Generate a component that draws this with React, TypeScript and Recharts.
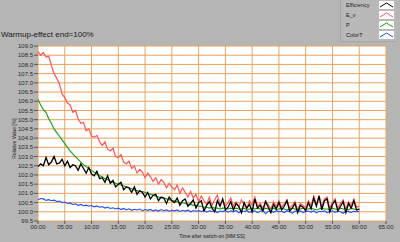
import { LineChart, Line, XAxis, YAxis, CartesianGrid, Label } from "recharts";

// sampled every 30 s, 00:00 .. 60:00
const sampleStepMin = 0.5;

const efficiency = [
  102.45, 102.6, 102.5, 102.95, 102.55, 102.7, 103.0, 102.6, 102.65, 102.85, 102.5,
  102.75, 102.4, 102.55, 102.5, 102.25, 102.6, 102.35, 102.1, 102.4, 102.05,
  101.95, 102.2, 101.8, 101.85, 101.6, 101.95, 101.55, 101.7, 101.35, 101.5,
  101.6, 101.2, 101.35, 101.3, 101.05, 101.35, 100.95, 101.15, 101.05, 100.8,
  101.05, 100.7, 100.9, 100.95, 100.6, 100.8, 100.75, 100.45, 100.8, 100.6,
  100.5, 100.75, 100.35, 100.6, 100.7, 100.3, 100.45, 100.65, 100.2, 100.5,
  100.6, 100.05, 100.35, 100.55, 100.2, 100.0, 100.6, 100.3, 100.7, 100.1,
  100.25, 100.55, 100.1, 100.45, 100.3, 99.95, 100.5, 100.2, 100.4, 100.0,
  100.7, 100.2, 100.35, 100.05, 100.55, 100.25, 99.95, 100.4, 100.15, 100.5,
  100.1, 100.3, 100.6, 100.05, 100.2, 100.45, 99.95, 100.35, 100.25, 100.05,
  100.5, 100.15, 100.75, 100.3, 100.85, 100.1, 100.6, 100.7, 100.0, 100.4,
  100.6, 100.05, 100.3, 100.55, 99.95, 100.45, 100.2, 100.6, 100.1, 100.15,
];

const eV = [
  108.7, 108.5, 108.65, 108.4, 108.45, 107.95, 107.5, 107.25, 106.95, 106.4, 106.2,
  105.9, 105.8, 105.4, 105.5, 105.05, 104.8, 104.85, 104.4, 104.5, 104.1,
  104.05, 104.15, 103.8, 103.6, 103.8, 103.4, 103.3, 103.45, 103.0, 102.95,
  103.1, 102.7, 102.6, 102.75, 102.35, 102.5, 102.1, 102.3, 102.15, 101.85,
  102.1, 101.9, 101.65, 101.85, 101.5, 101.75, 101.6, 101.3, 101.55, 101.35,
  101.2, 101.45, 101.0, 101.3, 101.05, 100.8, 101.1, 100.75, 100.95, 100.55,
  100.85, 100.6, 100.4, 100.8, 100.35, 100.65, 100.9, 100.4, 100.6, 100.3,
  100.5, 100.75, 100.3, 100.55, 100.25, 100.65, 100.4, 100.15, 100.6, 100.35,
  100.8, 100.3, 100.45, 100.2, 100.6, 100.4, 100.15, 100.55, 100.3, 100.6,
  100.25, 100.45, 100.65, 100.2, 100.35, 100.55, 100.1, 100.45, 100.35, 100.2,
  100.6, 100.3, 100.85, 100.4, 100.9, 100.25, 100.7, 100.8, 100.2, 100.5,
  100.7, 100.2, 100.45, 100.65, 100.15, 100.55, 100.35, 100.7, 100.25, 100.3,
];

const power = [
  106.1, 105.8, 105.55, 105.4, 105.05, 104.8, 104.5, 104.3, 104.1, 103.9, 103.7,
  103.5, 103.3, 103.15, 103.0, 102.85, 102.7, 102.55, 102.45, 102.35, 102.25,
  102.15, 102.05, 101.95, 101.9, 101.8, 101.75, 101.65, 101.6, 101.55, 101.5,
  101.45, 101.4, 101.35, 101.3, 101.25, 101.2, 101.15, 101.1, 101.1, 101.05,
  101.0, 100.95, 100.9, 100.85, 100.8, 100.75, 100.75, 100.7, 100.65, 100.6,
  100.6, 100.55, 100.5, 100.5, 100.45, 100.4, 100.4, 100.35, 100.35, 100.3,
  100.3, 100.25, 100.25, 100.2, 100.25, 100.2, 100.2, 100.15, 100.2, 100.2,
  100.15, 100.2, 100.15, 100.2, 100.15, 100.15, 100.2, 100.1, 100.15, 100.2,
  100.15, 100.2, 100.15, 100.1, 100.2, 100.15, 100.15, 100.2, 100.1, 100.15,
  100.2, 100.15, 100.1, 100.15, 100.2, 100.15, 100.1, 100.15, 100.2, 100.15,
  100.15, 100.2, 100.15, 100.1, 100.15, 100.2, 100.15, 100.15, 100.1, 100.2,
  100.15, 100.1, 100.2, 100.15, 100.15, 100.1, 100.2, 100.15, 100.1, 100.15,
];

const colorT = [
  100.65, 100.72, 100.7, 100.62, 100.66, 100.6, 100.63, 100.56, 100.58, 100.5, 100.53,
  100.45, 100.48, 100.4, 100.43, 100.35, 100.4, 100.33, 100.36, 100.3, 100.34,
  100.27, 100.32, 100.25, 100.28, 100.2, 100.26, 100.18, 100.22, 100.15, 100.2,
  100.12, 100.18, 100.1, 100.16, 100.08, 100.14, 100.1, 100.15, 100.06, 100.12,
  100.08, 100.13, 100.05, 100.1, 100.04, 100.12, 100.06, 100.1, 100.03, 100.08,
  100.05, 100.1, 100.02, 100.08, 100.04, 100.09, 100.0, 100.07, 100.03, 100.06,
  100.02, 100.08, 99.98, 100.05, 100.02, 100.07, 99.96, 100.04, 100.01, 100.06,
  99.98, 100.05, 100.0, 100.08, 99.95, 100.04, 100.02, 100.06, 99.97, 100.03,
  100.05, 99.95, 100.03, 100.07, 99.9, 100.02, 100.04, 99.97, 100.05, 100.0,
  100.03, 99.96, 100.06, 100.0, 99.93, 100.04, 100.01, 100.05, 99.96, 100.02,
  100.04, 99.98, 100.06, 99.94, 100.03, 100.0, 100.05, 99.95, 100.02, 100.04,
  99.97, 100.03, 100.0, 99.92, 100.04, 100.01, 99.96, 100.03, 100.0, 100.02,
];

const xTicks = [0, 5, 10, 15, 20, 25, 30, 35, 40, 45, 50, 55, 60, 65];
const yTicks = [
  99.5, 100, 100.5, 101, 101.5, 102, 102.5, 103, 103.5, 104, 104.5, 105, 105.5,
  106, 106.5, 107, 107.5, 108, 108.5, 109,
];

const series = [
  { key: "efficiency", name: "Efficiency", color: "#000000", width: 1.3 },
  { key: "eV", name: "E_v", color: "#ff5656", width: 1.2 },
  { key: "power", name: "P", color: "#13a013", width: 1.1 },
  { key: "colorT", name: "ColorT", color: "#1f4fff", width: 1.1 },
];

const data = efficiency.map((v, i) => ({
  t: i * sampleStepMin,
  efficiency: v,
  eV: eV[i],
  power: power[i],
  colorT: colorT[i],
}));

const font = "'Liberation Sans', Arial, sans-serif";
const tickStyle = { fontSize: 6, fill: "#2a2a2a", fontFamily: font };
const fmtTime = (m: number) => `${String(m).padStart(2, "0")}:00`;

// draw order: black on top
const drawOrder = ["eV", "power", "colorT", "efficiency"];

function LegendBox() {
  return (
    <div
      style={{
        position: "absolute",
        left: 340,
        top: 0,
        width: 55,
        height: 41,
        background: "#b9b9b9",
        borderLeft: "1px solid #a6a6a6",
        borderBottom: "1px solid #a6a6a6",
      }}
    >
      {series.map((s, i) => (
        <div
          key={s.key}
          style={{ position: "absolute", left: 0, top: i * 10, width: 55, height: 10 }}
        >
          <span
            style={{
              position: "absolute",
              left: 5,
              top: 2,
              fontSize: 5.5,
              lineHeight: "6px",
              fontFamily: font,
              color: "#222",
            }}
          >
            {s.name}
          </span>
          <svg
            width={15}
            height={8}
            style={{ position: "absolute", left: 38, top: 1, background: "#fff" }}
          >
            <polyline
              points="1,6 7.5,2 14,6"
              fill="none"
              stroke={s.color}
              strokeWidth={1}
            />
          </svg>
        </div>
      ))}
    </div>
  );
}

export default function App() {
  return (
    <div
      style={{
        position: "absolute",
        left: 0,
        top: 0,
        width: 400,
        height: 242,
        background: "#b5b5b5",
        overflow: "hidden",
      }}
    >
      <div
        style={{
          position: "absolute",
          left: 1,
          top: 31,
          fontSize: 8,
          lineHeight: "8px",
          fontFamily: font,
          color: "#1a1a1a",
        }}
      >
        Warmup-effect end=100%
      </div>
      <LegendBox />
      <LineChart
        width={400}
        height={242}
        data={data}
        margin={{ top: 46, right: 14, bottom: 1, left: 0 }}
        style={{ position: "absolute", left: 0, top: 0 }}
      >
        <CartesianGrid stroke="#e9a25a" strokeWidth={1} fill="#ffffff" />
        <XAxis
          dataKey="t"
          type="number"
          domain={[0, 65]}
          ticks={xTicks}
          interval={0}
          tickFormatter={fmtTime}
          tick={tickStyle}
          tickSize={3}
          tickMargin={1}
          axisLine={false}
          tickLine={{ stroke: "#555" }}
          height={20}
        >
          <Label
            value="Time after switch-on [MM:SS]"
            position="insideBottom"
            offset={3}
            style={{ fontSize: 5, fill: "#222", fontFamily: font }}
          />
        </XAxis>
        <YAxis
          type="number"
          domain={[99.5, 109]}
          ticks={yTicks}
          interval={0}
          tickFormatter={(v: number) => v.toFixed(1)}
          tick={tickStyle}
          tickSize={4}
          tickMargin={1}
          axisLine={false}
          tickLine={{ stroke: "#555" }}
          width={38}
        >
          <Label
            value="Relative Value [%]"
            angle={-90}
            position="center"
            dx={-5}
            dy={5}
            style={{ fontSize: 5, fill: "#222", fontFamily: font, textAnchor: "middle" }}
          />
        </YAxis>
        {drawOrder.map((k) => {
          const s = series.find((x) => x.key === k)!;
          return (
            <Line
              key={s.key}
              dataKey={s.key}
              name={s.name}
              stroke={s.color}
              strokeWidth={s.width}
              dot={false}
              type="linear"
              isAnimationActive={false}
            />
          );
        })}
      </LineChart>
    </div>
  );
}
